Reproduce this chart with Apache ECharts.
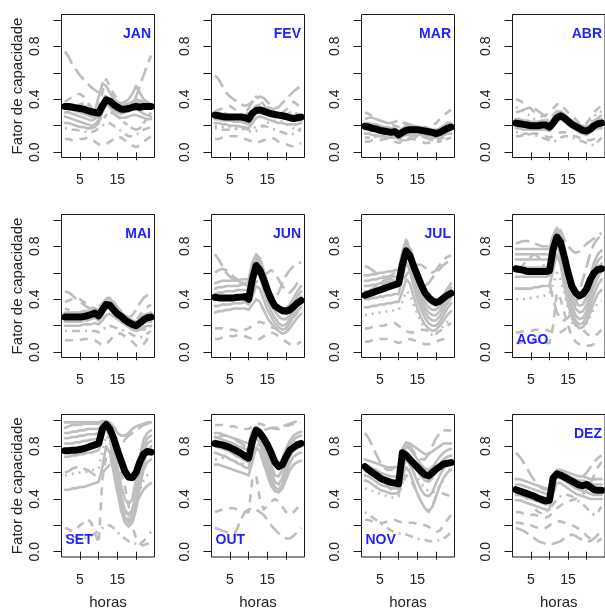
<!DOCTYPE html>
<html><head><meta charset="utf-8">
<script src="https://cdn.jsdelivr.net/npm/echarts@6/dist/echarts.min.js"></script>
<style>html,body{margin:0;padding:0;background:#fff}#c{width:605px;height:611px}</style>
</head><body><div id="c"></div><script>
// Hourly capacity factor: daily profiles (gray) and monthly mean profile (black)
const hours = [1,2,3,4,5,6,7,8,9,10,11,12,13,14,15,16,17,18,19,20,21,22,23,24];
const monthNames = ['JAN','FEV','MAR','ABR','MAI','JUN','JUL','AGO','SET','OUT','NOV','DEZ'];
const yTicks = [0, 0.2, 0.4, 0.6, 0.8, 1.0];
const yTickLabels = [0, 0.4, 0.8];
const xTicks = [5, 10, 15, 20];
const xTickLabels = [5, 15];

// Monthly mean profiles
const meanJAN = [.345,.345,.34,.335,.33,.325,.315,.305,.30,.295,.35,.395,.385,.36,.34,.325,.325,.33,.34,.345,.34,.345,.345,.345];
const meanFEV = [.28,.275,.27,.265,.265,.265,.265,.265,.26,.25,.295,.315,.32,.31,.30,.29,.285,.28,.275,.27,.26,.255,.26,.265];
const meanMAR = [.195,.19,.18,.175,.165,.16,.155,.15,.155,.13,.15,.165,.17,.17,.17,.165,.16,.155,.15,.14,.15,.165,.18,.19];
const meanABR = [.22,.215,.21,.205,.20,.20,.20,.205,.205,.19,.22,.26,.275,.26,.235,.21,.195,.18,.165,.16,.175,.20,.215,.22];
const meanMAI = [.265,.265,.265,.265,.265,.27,.275,.285,.295,.275,.32,.36,.355,.32,.29,.27,.245,.225,.21,.20,.22,.245,.26,.265];
const meanJUN = [.415,.41,.41,.41,.41,.41,.415,.415,.42,.40,.55,.655,.62,.55,.47,.40,.35,.33,.315,.31,.32,.345,.37,.39];
const meanJUL = [.43,.44,.45,.46,.47,.48,.49,.50,.51,.52,.66,.765,.73,.65,.58,.51,.45,.415,.39,.375,.385,.41,.43,.445];
const meanAGO = [.63,.625,.62,.61,.61,.61,.61,.61,.61,.615,.78,.87,.83,.72,.60,.50,.45,.425,.44,.48,.55,.60,.625,.63];
const meanSET = [.765,.765,.77,.77,.775,.78,.79,.80,.81,.82,.93,.965,.93,.86,.77,.69,.61,.565,.56,.60,.68,.74,.76,.755];
const meanOUT = [.82,.815,.81,.80,.79,.775,.76,.745,.725,.71,.84,.92,.90,.86,.81,.75,.68,.645,.66,.72,.77,.79,.81,.82];
const meanNOV = [.645,.62,.60,.58,.56,.545,.535,.525,.52,.515,.75,.73,.70,.67,.64,.61,.585,.575,.60,.625,.645,.665,.67,.675];
const meanDEZ = [.47,.46,.45,.44,.43,.42,.405,.395,.385,.39,.56,.59,.58,.565,.55,.535,.52,.505,.50,.51,.49,.47,.465,.465];

// Daily profiles per month
const daysJAN = [
 [.76,.72,.66,.62,.58,.55,.52,.49,.47,.45,.43,.42,.40,.38,.36,.34,.32,.33,.36,.42,.50,.58,.66,.73],
 [.35,.36,.36,.35,.34,.33,.32,.30,.31,.42,.52,.50,.45,.40,.38,.37,.38,.40,.44,.50,.45,.40,.38,.36],
 [.30,.30,.29,.28,.27,.26,.25,.24,.25,.28,.36,.42,.40,.36,.33,.32,.33,.34,.36,.38,.37,.35,.34,.33],
 [.27,.26,.25,.24,.23,.22,.21,.20,.21,.24,.33,.38,.37,.33,.30,.29,.30,.31,.32,.33,.31,.29,.28,.27],
 [.22,.22,.21,.20,.19,.19,.18,.18,.19,.22,.30,.36,.34,.30,.27,.26,.26,.27,.28,.28,.27,.26,.25,.25],
 [.38,.40,.42,.44,.44,.42,.38,.34,.30,.33,.45,.55,.50,.44,.40,.37,.35,.33,.32,.35,.40,.36,.34,.33],
 [.18,.18,.17,.17,.16,.16,.15,.15,.16,.18,.20,.22,.22,.20,.18,.16,.14,.12,.12,.13,.15,.17,.18,.19],
 [.10,.10,.09,.09,.10,.10,.11,.10,.08,.06,.05,.06,.08,.10,.12,.11,.09,.07,.05,.04,.05,.08,.10,.12],
 [.30,.31,.33,.35,.36,.37,.36,.34,.30,.26,.24,.28,.30,.29,.27,.25,.22,.20,.18,.17,.18,.22,.26,.30],
 [.33,.33,.32,.31,.30,.29,.28,.27,.26,.27,.33,.38,.40,.40,.38,.36,.36,.37,.38,.40,.39,.38,.36,.35]
];
const daysFEV = [
 [.58,.55,.50,.45,.42,.40,.38,.36,.35,.36,.38,.40,.42,.41,.38,.35,.33,.34,.37,.40,.43,.46,.48,.50],
 [.28,.28,.27,.27,.26,.26,.26,.26,.25,.24,.30,.33,.33,.32,.31,.30,.29,.29,.28,.28,.27,.27,.27,.27],
 [.25,.25,.24,.24,.24,.23,.23,.23,.22,.21,.26,.30,.30,.29,.28,.28,.27,.26,.26,.25,.25,.24,.24,.24],
 [.22,.22,.21,.21,.20,.20,.20,.19,.19,.18,.22,.26,.27,.26,.25,.24,.23,.22,.22,.21,.21,.21,.21,.22],
 [.31,.32,.33,.34,.35,.33,.31,.29,.28,.30,.33,.35,.36,.35,.34,.33,.32,.31,.30,.32,.35,.38,.36,.33],
 [.18,.18,.17,.17,.17,.17,.18,.18,.18,.17,.18,.19,.20,.20,.19,.18,.17,.16,.15,.14,.13,.14,.16,.18],
 [.10,.10,.11,.11,.12,.12,.12,.11,.10,.09,.08,.07,.08,.09,.10,.11,.10,.08,.07,.06,.05,.04,.05,.07],
 [.29,.30,.30,.29,.28,.27,.27,.28,.30,.33,.38,.42,.40,.36,.32,.30,.28,.27,.27,.28,.30,.30,.29,.28],
 [.20,.20,.19,.19,.19,.18,.18,.18,.17,.16,.15,.16,.18,.20,.22,.23,.24,.24,.23,.22,.20,.18,.17,.16]
];
const daysMAR = [
 [.30,.29,.27,.25,.24,.23,.22,.21,.20,.19,.20,.22,.21,.20,.19,.18,.18,.19,.20,.22,.25,.28,.30,.32],
 [.22,.22,.21,.21,.20,.19,.19,.18,.18,.16,.18,.20,.20,.20,.19,.19,.18,.18,.17,.17,.18,.20,.21,.22],
 [.17,.17,.16,.16,.15,.15,.14,.14,.14,.12,.14,.16,.16,.16,.16,.15,.15,.14,.13,.13,.14,.15,.16,.17],
 [.14,.14,.13,.13,.12,.12,.11,.11,.11,.10,.12,.13,.13,.13,.13,.13,.12,.12,.11,.11,.12,.13,.14,.14],
 [.25,.26,.26,.25,.24,.23,.22,.22,.23,.24,.23,.21,.19,.17,.17,.18,.19,.18,.16,.15,.17,.20,.22,.24],
 [.08,.08,.09,.09,.09,.10,.10,.09,.08,.07,.08,.09,.10,.10,.09,.08,.07,.07,.08,.09,.10,.11,.12,.13],
 [.19,.18,.17,.16,.15,.15,.15,.16,.17,.15,.12,.10,.11,.13,.15,.16,.17,.17,.16,.14,.13,.14,.16,.18],
 [.11,.11,.11,.12,.12,.13,.13,.12,.11,.10,.09,.09,.10,.11,.12,.12,.11,.10,.09,.08,.08,.09,.10,.11]
];
const daysABR = [
 [.40,.39,.37,.35,.33,.30,.28,.27,.28,.30,.33,.36,.37,.33,.30,.28,.25,.22,.20,.22,.26,.30,.33,.35],
 [.25,.25,.24,.24,.23,.23,.23,.24,.24,.22,.26,.30,.31,.29,.26,.24,.22,.21,.20,.19,.21,.24,.25,.25],
 [.21,.21,.20,.20,.20,.20,.20,.20,.20,.19,.22,.27,.28,.26,.24,.21,.19,.18,.17,.16,.18,.20,.21,.21],
 [.18,.18,.17,.17,.17,.17,.17,.17,.17,.16,.19,.23,.25,.23,.21,.19,.17,.15,.14,.13,.15,.17,.18,.18],
 [.30,.31,.32,.33,.34,.33,.31,.29,.27,.26,.28,.31,.30,.27,.23,.20,.17,.15,.14,.15,.18,.22,.26,.28],
 [.12,.12,.13,.13,.14,.14,.14,.13,.12,.11,.12,.14,.15,.15,.14,.13,.12,.11,.10,.09,.09,.10,.11,.12],
 [.15,.15,.14,.14,.13,.13,.12,.11,.10,.09,.08,.09,.11,.12,.12,.11,.10,.09,.08,.07,.06,.05,.08,.11],
 [.34,.33,.31,.29,.27,.25,.24,.23,.24,.25,.27,.29,.28,.25,.22,.19,.17,.16,.17,.20,.24,.27,.30,.31]
];
const daysMAI = [
 [.46,.45,.43,.40,.38,.36,.34,.33,.33,.34,.37,.40,.42,.38,.34,.31,.28,.26,.28,.32,.37,.41,.43,.44],
 [.30,.30,.30,.30,.30,.31,.31,.32,.33,.31,.36,.40,.41,.37,.33,.30,.28,.26,.24,.23,.25,.28,.29,.30],
 [.26,.26,.26,.26,.26,.27,.27,.28,.29,.27,.32,.37,.37,.33,.30,.27,.25,.23,.21,.20,.22,.25,.26,.26],
 [.23,.23,.23,.23,.23,.24,.24,.25,.26,.24,.28,.33,.33,.30,.27,.25,.23,.21,.19,.18,.20,.22,.23,.23],
 [.20,.20,.20,.20,.20,.21,.21,.21,.22,.21,.24,.28,.29,.27,.25,.23,.21,.19,.17,.16,.17,.19,.20,.20],
 [.38,.39,.40,.41,.40,.38,.36,.34,.33,.32,.35,.38,.38,.36,.33,.30,.26,.23,.22,.24,.28,.32,.34,.36],
 [.16,.16,.16,.16,.16,.16,.16,.16,.16,.15,.17,.19,.20,.19,.18,.17,.16,.15,.13,.12,.11,.12,.14,.16],
 [.09,.09,.09,.09,.09,.10,.10,.10,.09,.07,.05,.06,.09,.12,.14,.14,.12,.10,.08,.05,.04,.06,.10,.14],
 [.33,.32,.30,.28,.27,.28,.29,.30,.31,.30,.34,.36,.35,.33,.30,.28,.26,.24,.22,.20,.18,.17,.18,.20]
];
const daysJUN = [
 [.74,.70,.65,.60,.57,.55,.54,.53,.52,.53,.62,.70,.65,.57,.50,.44,.40,.45,.52,.58,.62,.65,.67,.68],
 [.52,.53,.54,.54,.54,.54,.54,.55,.55,.55,.68,.74,.71,.62,.52,.43,.37,.34,.33,.33,.36,.41,.46,.50],
 [.48,.49,.49,.50,.50,.50,.50,.51,.51,.50,.64,.72,.68,.58,.48,.40,.34,.31,.29,.29,.32,.37,.42,.46],
 [.44,.45,.45,.46,.46,.46,.47,.47,.47,.46,.60,.70,.64,.54,.44,.36,.31,.27,.25,.25,.28,.33,.38,.42],
 [.40,.40,.41,.41,.41,.42,.42,.42,.42,.40,.50,.62,.57,.47,.38,.31,.26,.22,.20,.21,.25,.30,.35,.38],
 [.35,.35,.36,.36,.36,.37,.37,.37,.38,.36,.42,.50,.48,.40,.32,.27,.22,.19,.17,.18,.22,.27,.31,.34],
 [.30,.31,.31,.32,.32,.33,.33,.33,.33,.32,.36,.40,.38,.32,.26,.22,.19,.16,.14,.15,.18,.22,.26,.29],
 [.18,.18,.18,.17,.17,.17,.16,.16,.17,.18,.20,.22,.23,.22,.20,.19,.18,.17,.16,.18,.22,.26,.30,.33],
 [.10,.10,.11,.11,.12,.12,.13,.13,.12,.11,.10,.09,.10,.12,.14,.15,.14,.12,.10,.08,.06,.05,.06,.08],
 [.60,.62,.63,.62,.60,.57,.55,.52,.50,.48,.50,.53,.55,.58,.60,.62,.60,.55,.50,.46,.45,.48,.52,.56]
];
const daysJUL = [
 [.65,.64,.62,.60,.58,.57,.57,.58,.60,.62,.75,.85,.80,.70,.62,.55,.50,.52,.56,.60,.63,.66,.68,.70],
 [.58,.58,.59,.59,.60,.60,.61,.61,.62,.62,.76,.84,.78,.66,.56,.48,.42,.38,.36,.35,.38,.43,.48,.52],
 [.54,.54,.55,.55,.56,.56,.57,.57,.57,.57,.72,.82,.76,.64,.53,.45,.38,.34,.32,.32,.35,.40,.45,.49],
 [.50,.50,.51,.51,.52,.52,.53,.53,.53,.53,.68,.80,.73,.60,.49,.41,.34,.30,.28,.28,.31,.36,.41,.45],
 [.46,.46,.47,.47,.48,.48,.49,.49,.50,.50,.64,.77,.70,.56,.45,.37,.30,.26,.24,.24,.27,.32,.37,.41],
 [.40,.40,.41,.41,.42,.42,.43,.43,.44,.44,.56,.68,.62,.50,.40,.32,.26,.22,.20,.20,.23,.28,.33,.37],
 [.34,.34,.35,.35,.36,.36,.37,.37,.38,.38,.46,.55,.52,.42,.33,.26,.21,.18,.16,.17,.20,.24,.28,.31],
 [.28,.28,.29,.29,.30,.30,.31,.31,.32,.32,.38,.46,.44,.36,.29,.23,.18,.15,.13,.14,.17,.20,.23,.26],
 [.18,.18,.19,.19,.20,.20,.21,.21,.22,.20,.18,.16,.15,.15,.16,.17,.17,.16,.15,.14,.16,.18,.20,.22],
 [.08,.08,.09,.09,.10,.10,.10,.09,.08,.07,.08,.09,.10,.09,.08,.07,.06,.06,.07,.08,.09,.10,.11,.12],
 [.45,.46,.48,.50,.52,.54,.55,.55,.54,.53,.55,.58,.62,.65,.66,.66,.64,.62,.60,.62,.66,.70,.72,.73]
];
const daysAGO = [
 [.82,.83,.84,.84,.83,.82,.81,.80,.80,.80,.88,.95,.92,.85,.80,.77,.75,.76,.79,.82,.84,.86,.88,.90],
 [.78,.78,.78,.78,.78,.78,.78,.78,.78,.78,.88,.94,.88,.75,.62,.52,.45,.42,.43,.48,.58,.68,.74,.77],
 [.74,.74,.74,.74,.74,.74,.74,.74,.74,.74,.85,.93,.85,.70,.55,.45,.38,.35,.36,.42,.52,.62,.69,.72],
 [.70,.70,.70,.70,.70,.70,.70,.70,.70,.70,.82,.91,.82,.66,.50,.40,.33,.30,.31,.36,.46,.56,.63,.67],
 [.64,.64,.64,.64,.64,.64,.64,.64,.64,.64,.78,.88,.78,.61,.45,.35,.28,.25,.26,.31,.40,.50,.57,.61],
 [.57,.57,.57,.57,.57,.57,.57,.57,.57,.58,.70,.82,.72,.56,.40,.30,.24,.21,.22,.27,.35,.44,.51,.55],
 [.48,.48,.48,.48,.48,.49,.49,.50,.50,.50,.62,.74,.66,.50,.36,.27,.21,.18,.19,.23,.30,.38,.44,.47],
 [.40,.40,.40,.40,.41,.41,.42,.42,.43,.44,.52,.60,.55,.44,.33,.25,.20,.18,.19,.22,.27,.33,.37,.39],
 [.15,.15,.16,.16,.16,.17,.17,.17,.17,.16,.15,.14,.15,.17,.20,.22,.22,.20,.17,.14,.12,.12,.14,.17],
 [.60,.63,.66,.70,.72,.74,.72,.68,.62,.52,.40,.30,.25,.24,.26,.30,.36,.45,.55,.65,.75,.82,.86,.88],
 [.07,.07,.08,.08,.08,.08,.08,.08,.07,.07,.20,.45,.40,.30,.20,.12,.08,.06,.05,.05,.05,.06,.06,.07]
];
const daysSET = [
 [.98,.98,.98,.98,.98,.98,.98,.98,.98,.98,.99,.99,.98,.95,.90,.88,.88,.90,.93,.95,.96,.97,.98,.98],
 [.94,.95,.96,.96,.96,.97,.97,.97,.97,.97,.98,.99,.94,.82,.65,.50,.40,.36,.40,.55,.72,.85,.90,.92],
 [.90,.90,.91,.91,.92,.92,.93,.93,.93,.93,.97,.99,.92,.78,.58,.42,.32,.28,.32,.45,.64,.80,.86,.88],
 [.86,.86,.87,.87,.88,.88,.89,.89,.89,.90,.95,.98,.90,.74,.52,.36,.26,.22,.26,.38,.56,.74,.82,.84],
 [.82,.82,.82,.83,.83,.84,.84,.85,.85,.86,.92,.97,.88,.70,.47,.31,.22,.19,.22,.32,.48,.66,.76,.80],
 [.72,.72,.73,.73,.74,.74,.75,.75,.76,.77,.86,.94,.86,.68,.48,.34,.26,.23,.26,.36,.50,.62,.68,.70],
 [.58,.58,.59,.59,.60,.60,.61,.62,.62,.63,.76,.88,.82,.66,.48,.35,.28,.25,.28,.36,.46,.54,.58,.60],
 [.47,.47,.48,.48,.49,.49,.50,.51,.52,.53,.64,.80,.75,.60,.45,.36,.30,.28,.30,.36,.42,.47,.50,.52],
 [.18,.17,.15,.17,.20,.22,.25,.22,.15,.06,.55,.72,.70,.65,.62,.60,.50,.35,.20,.10,.06,.08,.12,.15],
 [.12,.12,.11,.11,.10,.10,.11,.12,.14,.16,.18,.20,.20,.18,.15,.12,.10,.08,.07,.06,.05,.05,.06,.07],
 [.60,.61,.63,.64,.64,.63,.62,.60,.58,.57,.60,.63,.66,.70,.75,.80,.85,.88,.90,.92,.94,.96,.97,.98]
];
const daysOUT = [
 [.96,.96,.96,.95,.95,.95,.94,.94,.93,.93,.95,.97,.97,.96,.95,.94,.93,.93,.94,.95,.96,.97,.98,.98],
 [.90,.90,.89,.88,.87,.86,.85,.84,.83,.82,.92,.95,.93,.88,.80,.72,.66,.65,.70,.78,.84,.88,.90,.91],
 [.87,.86,.85,.84,.83,.82,.80,.79,.78,.77,.88,.93,.91,.85,.76,.66,.58,.57,.62,.72,.80,.85,.87,.88],
 [.84,.83,.82,.81,.80,.78,.77,.75,.74,.73,.85,.92,.89,.82,.72,.61,.53,.51,.56,.67,.76,.81,.83,.84],
 [.80,.79,.78,.77,.76,.74,.72,.71,.69,.68,.81,.90,.86,.78,.68,.57,.49,.47,.51,.62,.72,.77,.79,.80],
 [.75,.74,.73,.72,.70,.69,.67,.66,.64,.63,.76,.87,.82,.73,.62,.52,.46,.45,.49,.58,.67,.72,.74,.75],
 [.66,.66,.65,.64,.63,.62,.61,.60,.59,.58,.68,.79,.76,.67,.58,.50,.46,.45,.48,.55,.62,.66,.68,.69],
 [.70,.70,.71,.71,.70,.69,.68,.67,.66,.66,.72,.80,.82,.81,.78,.74,.70,.68,.70,.74,.78,.82,.86,.90],
 [.30,.31,.32,.33,.33,.33,.32,.31,.30,.30,.55,.58,.40,.32,.35,.38,.40,.38,.34,.30,.28,.30,.33,.36],
 [.18,.17,.16,.15,.14,.12,.18,.25,.30,.32,.33,.32,.30,.28,.24,.20,.17,.14,.12,.10,.10,.12,.15,.18],
 [.86,.87,.88,.88,.87,.86,.84,.82,.80,.80,.84,.88,.90,.92,.93,.94,.94,.94,.95,.96,.97,.98,.99,.99]
];
const daysNOV = [
 [.90,.86,.80,.74,.68,.64,.62,.62,.64,.66,.75,.82,.80,.76,.72,.70,.70,.74,.80,.86,.90,.92,.92,.92],
 [.70,.69,.68,.67,.66,.65,.64,.64,.64,.64,.78,.83,.82,.80,.78,.76,.74,.74,.76,.78,.80,.82,.82,.82],
 [.66,.65,.63,.62,.60,.59,.58,.57,.57,.57,.72,.80,.78,.74,.70,.66,.63,.62,.64,.68,.72,.75,.77,.78],
 [.62,.61,.59,.57,.55,.54,.53,.52,.52,.52,.68,.76,.73,.68,.62,.57,.54,.53,.56,.61,.66,.70,.72,.73],
 [.58,.57,.55,.53,.51,.50,.49,.48,.48,.48,.62,.70,.66,.60,.53,.47,.43,.42,.45,.52,.58,.63,.66,.67],
 [.54,.53,.51,.49,.47,.46,.45,.44,.44,.45,.58,.64,.60,.52,.44,.38,.33,.31,.34,.42,.50,.56,.60,.62],
 [.60,.62,.63,.62,.58,.54,.50,.47,.45,.44,.52,.58,.56,.50,.44,.38,.33,.30,.34,.42,.45,.44,.43,.42],
 [.48,.47,.46,.45,.44,.43,.42,.41,.41,.42,.52,.60,.62,.60,.56,.52,.48,.46,.45,.46,.50,.55,.60,.64],
 [.24,.24,.23,.23,.22,.22,.23,.24,.24,.23,.22,.22,.22,.22,.21,.21,.20,.19,.17,.15,.16,.20,.24,.28],
 [.30,.28,.26,.24,.22,.20,.18,.16,.15,.14,.14,.13,.12,.11,.10,.09,.09,.08,.08,.08,.09,.10,.12,.15]
];
const daysDEZ = [
 [.75,.72,.68,.63,.58,.54,.50,.48,.47,.48,.55,.60,.60,.58,.56,.54,.53,.54,.57,.60,.64,.68,.71,.73],
 [.55,.55,.54,.53,.52,.51,.50,.49,.48,.48,.58,.62,.62,.61,.60,.59,.58,.57,.57,.56,.55,.55,.55,.55],
 [.51,.51,.50,.49,.48,.47,.46,.45,.44,.44,.56,.61,.61,.59,.58,.56,.55,.54,.54,.53,.52,.51,.51,.51],
 [.47,.47,.46,.45,.44,.43,.42,.41,.40,.40,.54,.60,.59,.57,.55,.53,.51,.50,.50,.49,.48,.47,.47,.47],
 [.43,.43,.42,.41,.40,.39,.38,.37,.36,.36,.50,.58,.56,.54,.52,.50,.48,.47,.46,.45,.44,.43,.43,.43],
 [.39,.39,.38,.37,.36,.35,.34,.33,.32,.32,.44,.52,.52,.50,.48,.46,.44,.43,.42,.41,.40,.40,.40,.40],
 [.46,.45,.43,.40,.36,.33,.30,.29,.30,.32,.36,.40,.42,.43,.43,.42,.40,.38,.36,.33,.30,.28,.30,.34],
 [.30,.30,.29,.29,.28,.28,.27,.26,.26,.27,.30,.33,.35,.37,.38,.39,.40,.42,.44,.47,.52,.58,.64,.68],
 [.22,.22,.21,.20,.20,.19,.18,.17,.18,.20,.22,.23,.23,.22,.21,.20,.19,.17,.15,.12,.10,.09,.08,.10],
 [.18,.17,.16,.14,.12,.10,.08,.07,.06,.06,.06,.07,.08,.10,.12,.13,.12,.10,.09,.08,.08,.10,.13,.16]
];

const meanProfiles = [meanJAN, meanFEV, meanMAR, meanABR, meanMAI, meanJUN, meanJUL, meanAGO, meanSET, meanOUT, meanNOV, meanDEZ];
const dailyProfiles = [daysJAN, daysFEV, daysMAR, daysABR, daysMAI, daysJUN, daysJUL, daysAGO, daysSET, daysOUT, daysNOV, daysDEZ];

// Line pattern of each daily profile (s solid, d dashed, o dotted, a dot-dash, l long dash, t two-dash)
const patternCodes = [
 'l s s s s d a d t s', 'l s s s d a d t o', 'd s s s l d a t', 'd s s s l d a o',
 'l s s s s d a d t', 'l s s s s s s d d l', 'l s s s s s s o d d l', 'l s s s s s s o d l d',
 's s s s s s o s d a l', 'd s s s s s s o d l l', 'l s s s s s d o d a', 'l s s s s s a d d l'
];
const dashes = {s: 'solid', d: [8, 7], o: [2, 5], a: [2, 5, 8, 5], l: [14, 6], t: [5, 4, 12, 4]};

// Panel layout (3 rows x 4 columns)
const colLeft = [61.5, 211.5, 361.5, 512.5];
const rowTop = [14.5, 214.5, 414.5];
const boxW = 93, boxH = 143;
const labelTopRight = {JAN:1, FEV:1, MAR:1, ABR:1, MAI:1, JUN:1, JUL:1, DEZ:1};

const FONT = 'Liberation Sans, Arial, sans-serif';
const grids = [], xAxes = [], yAxes = [], series = [], graphics = [];

monthNames.forEach((m, i) => {
  const r = Math.floor(i / 4), c = i % 4;
  const left = colLeft[c], top = rowTop[r];
  grids.push({left, top, width: boxW, height: boxH, show: true, borderColor: '#1a1a1a', borderWidth: 1, backgroundColor: 'transparent'});
  xAxes.push({
    gridIndex: i, type: 'value', min: 0.08, max: 24.92,
    axisLine: {show: false}, splitLine: {show: false},
    axisTick: {show: true, length: 8, customValues: xTicks, lineStyle: {color: '#1a1a1a'}},
    axisLabel: {show: true, customValues: xTickLabels, margin: 16, fontSize: 14, color: '#222', fontFamily: FONT},
    name: r === 2 ? 'horas' : '', nameLocation: 'middle', nameGap: 38,
    nameTextStyle: {fontSize: 15, color: '#222', fontFamily: FONT}
  });
  yAxes.push({
    gridIndex: i, type: 'value', min: -0.04, max: 1.04,
    axisLine: {show: false}, splitLine: {show: false},
    axisTick: {show: true, length: 8, customValues: yTicks, lineStyle: {color: '#1a1a1a'}},
    axisLabel: {show: true, customValues: yTickLabels, rotate: 90, margin: 19, fontSize: 14, color: '#222', fontFamily: FONT,
      formatter: v => Number(v).toFixed(1)},
    name: c === 0 ? 'Fator de capacidade' : '', nameLocation: 'middle', nameGap: 36,
    nameTextStyle: {fontSize: 15, color: '#222', fontFamily: FONT}
  });
  const codes = patternCodes[i].split(' ');
  dailyProfiles[i].forEach((vals, j) => {
    const code = codes[j] || 's';
    series.push({
      type: 'line', xAxisIndex: i, yAxisIndex: i, symbol: 'none', silent: true, animation: false, z: 2,
      data: vals.map((v, k) => [hours[k], v]),
      lineStyle: {color: '#bebebe', width: 2.6, type: dashes[code], cap: code === 's' ? 'round' : 'butt', join: 'round'}
    });
  });
  series.push({
    type: 'line', xAxisIndex: i, yAxisIndex: i, symbol: 'none', silent: true, animation: false, z: 3,
    data: meanProfiles[i].map((v, k) => [hours[k], v]),
    lineStyle: {color: '#000', width: 7, cap: 'round', join: 'round'}
  });
  const tr = !!labelTopRight[m];
  graphics.push({
    type: 'text', silent: true, z: 10,
    x: tr ? left + boxW - 3.5 : left + 4,
    y: tr ? top + 20 : top + boxH - 17,
    style: {text: m, fill: '#1f1fff', font: 'bold 14px ' + FONT, textAlign: tr ? 'right' : 'left', textVerticalAlign: 'middle'}
  });
});

const chart = echarts.init(document.getElementById('c'), null, {renderer: 'canvas'});
chart.setOption({
  animation: false, backgroundColor: '#fff',
  grid: grids, xAxis: xAxes, yAxis: yAxes, series, graphic: graphics
});
</script></body></html>
